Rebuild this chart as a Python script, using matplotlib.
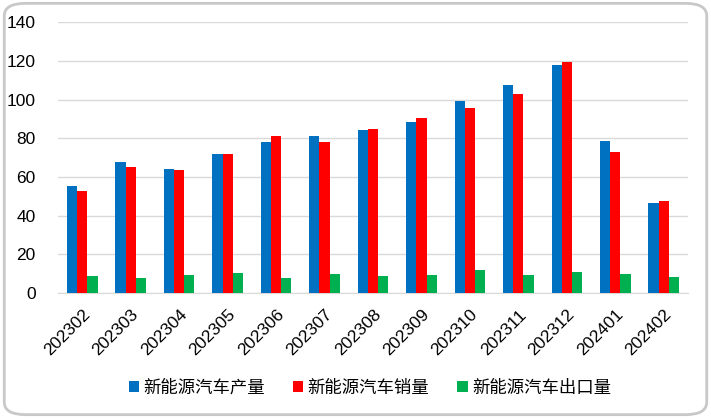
import matplotlib.pyplot as plt
import numpy as np
from matplotlib.patches import FancyBboxPatch

plt.rcParams['font.family'] = ['Liberation Sans', 'Noto Sans CJK SC', 'DejaVu Sans']

months = ['202302', '202303', '202304', '202305', '202306', '202307', '202308',
          '202309', '202310', '202311', '202312', '202401', '202402']
production = [55.4, 67.6, 64.2, 71.6, 78.3, 80.9, 84.2, 88.3, 99.1, 107.7, 117.6, 78.8, 46.6]
sales = [52.5, 65.2, 63.7, 72.1, 80.9, 78.0, 84.9, 90.7, 95.7, 102.9, 119.6, 73.1, 47.7]
exports = [8.6, 7.6, 9.5, 10.5, 7.6, 10.0, 8.6, 9.5, 12.0, 9.5, 11.0, 10.0, 8.1]
labels = ['新能源汽车产量', '新能源汽车销量', '新能源汽车出口量']

fig = plt.figure(figsize=(7.11, 4.18), dpi=100)

# rounded outer frame
frame = FancyBboxPatch((0.006, 0.008), 0.988, 0.984, boxstyle='round,pad=0,rounding_size=0.03',
                       transform=fig.transFigure, facecolor='white', edgecolor='#c8c8c8',
                       linewidth=2, zorder=-10)
fig.patches.append(frame)

ax = fig.add_axes([0.0816, 0.299, 0.886, 0.648])
ax.patch.set_alpha(0)

x = np.arange(len(months))
w = 0.21
ax.bar(x - w, production, w, color='#0070C0', label=labels[0], zorder=3)
ax.bar(x, sales, w, color='#FF0000', label=labels[1], zorder=3)
ax.bar(x + w, exports, w, color='#00B050', label=labels[2], zorder=3)

ax.set_xlim(-0.5, len(months) - 0.5)
ax.set_ylim(0, 140)
ax.set_yticks(range(0, 141, 20))
ax.grid(axis='y', color='#d9d9d9', linewidth=1, zorder=0)
for s in ['top', 'right', 'left']:
    ax.spines[s].set_visible(False)
ax.spines['bottom'].set_color('#d9d9d9')
ax.tick_params(length=0, labelsize=12.5, colors='black')
ax.tick_params(axis='y', pad=16)
ax.tick_params(axis='x', pad=10)
ax.set_xticks(x)
ax.set_xticklabels(months, rotation=45, ha='right', rotation_mode='anchor')

ax.legend(loc='center', bbox_to_anchor=(0.495, -0.35), ncol=3, frameon=False,
          prop={'family': 'Noto Sans CJK SC', 'size': 12.5},
          handlelength=0.6, handleheight=0.6, handletextpad=0.25, columnspacing=1.6)

plt.savefig('out.png', dpi=100)
